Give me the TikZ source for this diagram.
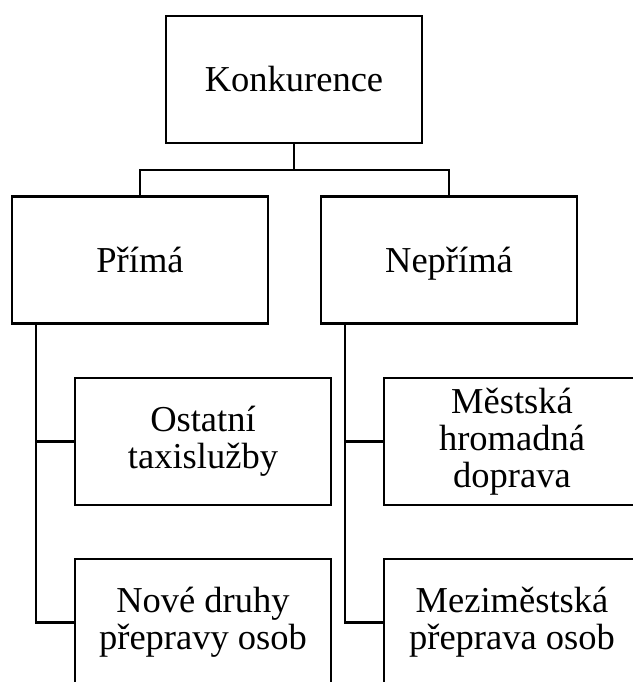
\documentclass[tikz,border=0pt]{standalone}
\usepackage{fontspec}
\setmainfont{Liberation Serif}
\begin{document}
\begin{tikzpicture}[x=1pt,y=-1pt,
  box/.style={draw, line width=2.4pt, minimum width=256pt, minimum height=127pt, inner sep=0pt, align=center, font=\fontsize{36.5}{37}\selectfont},
  single/.style={text height=29pt, text depth=5pt},
  conn/.style={line width=2.4pt}]
\useasboundingbox (0,0) rectangle (632,682);
\node[box,single] (K) at (294,79.5) {Konkurence};
\node[box,single] (P) at (140,260) {Přímá};
\node[box,single] (NP) at (449,260) {Nepřímá};
\node[box] (O) at (203,441.5) {Ostatní\\taxislužby};
\node[box] (NO) at (203,622.5) {Nové druhy\\přepravy osob};
\node[box] (M) at (512,441.5) {Městská\\hromadná\\doprava};
\node[box] (MZ) at (512,622.5) {Meziměstská\\přeprava osob};
\coordinate (bus) at (294,170);
\draw[conn] (K.south) -- (bus);
\draw[conn] (bus) -| (P.north);
\draw[conn] (bus) -| (NP.north);
\coordinate (pl) at ([xshift=25pt]P.south west);
\coordinate (npl) at ([xshift=25pt]NP.south west);
\draw[conn] (pl) |- (O.west);
\draw[conn] (pl) |- (NO.west);
\draw[conn] (npl) |- (M.west);
\draw[conn] (npl) |- (MZ.west);
\end{tikzpicture}
\end{document}
